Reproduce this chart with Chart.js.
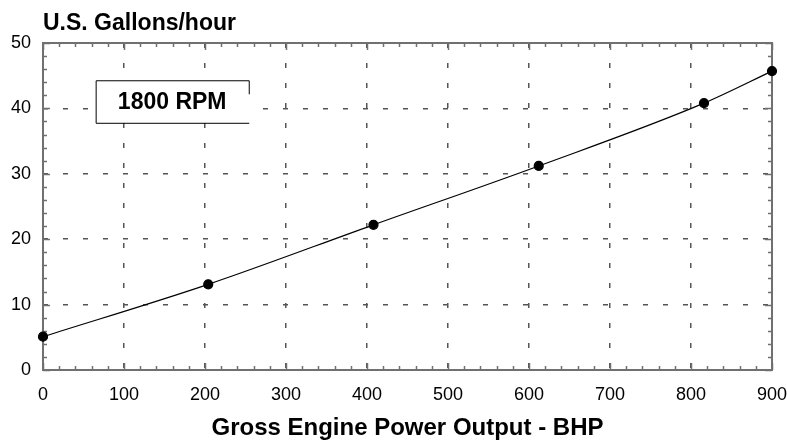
<!DOCTYPE html>
<html>
<head>
<meta charset="utf-8">
<title>Fuel consumption - 1800 RPM</title>
<script src="https://cdn.jsdelivr.net/npm/chart.js@4.4.0/dist/chart.umd.min.js"></script>
<style>
  html, body { margin: 0; padding: 0; background: #fff; }
  #wrap { width: 787px; height: 443px; position: relative; }
</style>
</head>
<body>
<div id="wrap"><canvas id="fuelChart" width="787" height="443"></canvas></div>
<script>
// ── Data ──
const bhp = [0, 204, 408, 612, 816, 900];
const gph = [5.1, 13.1, 22.2, 31.2, 40.8, 45.7];
const yTitle = 'U.S. Gallons/hour';
const xTitle = 'Gross Engine Power Output - BHP';
const rpmLabel = '1800 RPM';

const FONT = '"Liberation Sans", Arial, Helvetica, sans-serif';
const AXIS = '#707070';

// ── Frame, minor ticks, title and the RPM box ──
const decor = {
  id: 'decor',
  beforeDatasetsDraw(chart) {
    const {ctx, chartArea: a, scales: {x, y}} = chart;
    ctx.save();
    ctx.strokeStyle = AXIS;
    ctx.lineWidth = 1.5;
    // x ticks on bottom and top, pointing inward
    for (let v = 0; v <= 900; v += 20) {
      const px = Math.round(x.getPixelForValue(v)) + 0.5;
      const len = v % 100 === 0 ? 7 : 4;
      ctx.beginPath();
      ctx.moveTo(px, a.bottom); ctx.lineTo(px, a.bottom - len);
      ctx.moveTo(px, a.top); ctx.lineTo(px, a.top + len);
      ctx.stroke();
    }
    // y ticks on left and right
    for (let v = 0; v <= 50; v += 2) {
      const py = Math.round(y.getPixelForValue(v)) + 0.5;
      const len = v % 10 === 0 ? 7 : 4;
      ctx.beginPath();
      ctx.moveTo(a.left, py); ctx.lineTo(a.left + len, py);
      ctx.moveTo(a.right, py); ctx.lineTo(a.right - len, py);
      ctx.stroke();
    }
    // frame
    ctx.lineWidth = 2;
    ctx.strokeRect(a.left, a.top, a.right - a.left, a.bottom - a.top);
    ctx.restore();
  },
  afterDatasetsDraw(chart) {
    const {ctx, scales: {x, y}} = chart;
    // "1800 RPM" box, placed in data units
    const l = x.getPixelForValue(65), r = x.getPixelForValue(254);
    const t = y.getPixelForValue(44.3), b = y.getPixelForValue(37.8);
    ctx.save();
    ctx.fillStyle = '#fff';
    ctx.fillRect(l, t, r - l, b - t);
    ctx.strokeStyle = '#000';
    ctx.lineWidth = 1;
    ctx.beginPath();
    ctx.moveTo(r + 0.5, t + 14); ctx.lineTo(r + 0.5, t + 0.5);
    ctx.lineTo(l + 0.5, t + 0.5); ctx.lineTo(l + 0.5, b + 0.5);
    ctx.lineTo(r + 0.5, b + 0.5);
    ctx.stroke();
    ctx.fillStyle = '#000';
    ctx.font = 'bold 23px ' + FONT;
    ctx.textAlign = 'center';
    ctx.textBaseline = 'middle';
    ctx.fillText(rpmLabel, (l + r) / 2, (t + b) / 2 + 1);
    ctx.restore();
  },
  afterDraw(chart) {
    const {ctx, chartArea: a} = chart;
    ctx.save();
    ctx.fillStyle = '#000';
    ctx.font = 'bold 23px ' + FONT;
    ctx.textAlign = 'left';
    ctx.textBaseline = 'alphabetic';
    ctx.fillText(yTitle, a.left, 30);
    ctx.restore();
  }
};

new Chart(document.getElementById('fuelChart').getContext('2d'), {
  type: 'scatter',
  data: {
    datasets: [{
      label: rpmLabel,
      data: bhp.map((v, i) => ({x: v, y: gph[i]})),
      showLine: true,
      cubicInterpolationMode: 'monotone',
      borderColor: '#000',
      borderWidth: 1.2,
      pointRadius: 4.5,
      pointBackgroundColor: '#000',
      pointBorderColor: '#000',
      clip: false
    }]
  },
  options: {
    responsive: false,
    animation: false,
    layout: {padding: {top: 43, right: 0, bottom: 0, left: 0}},
    plugins: {legend: {display: false}, tooltip: {enabled: false}},
    scales: {
      x: {
        type: 'linear', min: 0, max: 900,
        afterFit: s => { s.height = 73; s.paddingRight = 15; s.paddingLeft = 0; },
        ticks: {stepSize: 100, color: '#000', padding: 14, maxRotation: 0, font: {family: FONT, size: 18}},
        grid: {color: '#555', lineWidth: 1.5, drawTicks: false},
        border: {display: false, dash: [5, 15]},
        title: {display: true, text: xTitle, color: '#000', padding: {top: 0, bottom: 0}, font: {family: FONT, size: 24, weight: 'bold'}}
      },
      y: {
        type: 'linear', min: 0, max: 50,
        afterFit: s => { s.width = 43; },
        ticks: {stepSize: 10, color: '#000', padding: 12, font: {family: FONT, size: 18}},
        grid: {color: '#555', lineWidth: 1.5, drawTicks: false},
        border: {display: false, dash: [5, 15]}
      }
    }
  },
  plugins: [decor]
});
</script>
</body>
</html>
